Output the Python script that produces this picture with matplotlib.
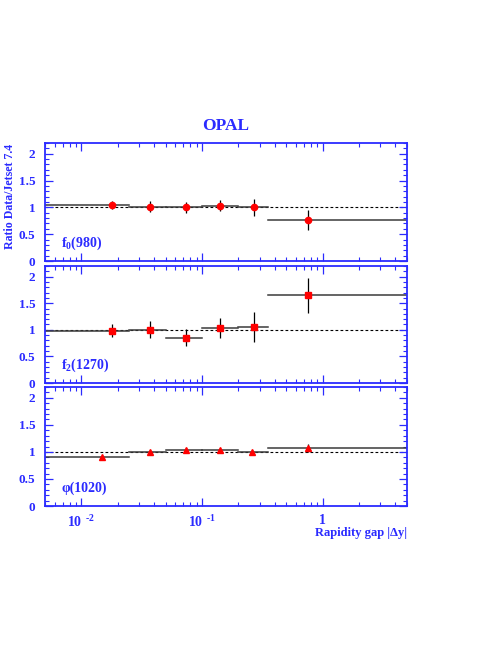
import numpy as np
import matplotlib
matplotlib.use("Agg")
import matplotlib.pyplot as plt
from matplotlib.ticker import FixedLocator, NullFormatter, MultipleLocator

plt.rcParams['font.family'] = ['Liberation Serif', 'DejaVu Serif']
plt.rcParams['font.weight'] = 'bold'
plt.rcParams['mathtext.fontset'] = 'custom'
plt.rcParams['mathtext.rm'] = 'Liberation Serif:bold'
plt.rcParams['mathtext.bf'] = 'Liberation Serif:bold'
plt.rcParams['mathtext.it'] = 'Liberation Serif:bold'

BLUE = '#2b2bff'

# bin edges in rapidity gap |dy|
bin_lo = [0.005, 0.025, 0.05, 0.1, 0.2, 0.35]
bin_hi = [0.025, 0.05, 0.1, 0.2, 0.35, 5.0]

# f0(980)
f0_x = [0.0179, 0.0369, 0.073, 0.14, 0.27, 0.75]
f0_y = [1.04, 1.01, 1.00, 1.03, 1.00, 0.77]
f0_err = [0.075, 0.10, 0.10, 0.10, 0.16, 0.19]

# f2(1270)
f2_x = [0.0179, 0.0369, 0.073, 0.14, 0.27, 0.75]
f2_y = [0.98, 1.00, 0.855, 1.04, 1.06, 1.65]
f2_err = [0.12, 0.16, 0.16, 0.19, 0.28, 0.33]

# phi(1020)
phi_x = [0.0149, 0.037, 0.073, 0.14, 0.26, 0.76]
phi_y = [0.91, 1.00, 1.04, 1.03, 1.00, 1.075]
phi_err = [0.02, 0.03, 0.03, 0.03, 0.04, 0.08]

panels = [
    (f0_x, f0_y, f0_err, 'o', 4.5, r'f$_{0}$(980)'),
    (f2_x, f2_y, f2_err, 's', 4.5, r'f$_{2}$(1270)'),
    (phi_x, phi_y, phi_err, '^', 4.0, 'φ(1020)'),
]

fig = plt.figure(figsize=(4.98, 6.45), dpi=100)
boxes = [[0.0904, 0.5953, 0.727, 0.183],
         [0.0904, 0.4062, 0.727, 0.1814],
         [0.0904, 0.2155, 0.727, 0.1845]]

for i, (xs, ys, es, mk, ms, lab) in enumerate(panels):
    ax = fig.add_axes(boxes[i])
    ax.set_xscale('log')
    ax.set_xlim(0.005, 5.0)
    ax.set_ylim(0, 2.2)
    ax.axhline(1.0, color='black', lw=0.8, ls=(0, (2.5, 2)), zorder=1)
    # horizontal bin bars
    for x, y, lo, hi in zip(xs, ys, bin_lo, bin_hi):
        ax.plot([lo, hi], [y, y], color='#3a3a3a', lw=1.1, zorder=2)
    ax.errorbar(xs, ys, yerr=es, fmt='none', ecolor='black', elinewidth=0.9,
                capsize=0, zorder=3)
    ax.plot(xs, ys, ls='none', marker=mk, ms=ms, color='red', mec='red',
            zorder=4)
    ax.text(0.045, 0.15, lab, transform=ax.transAxes, color=BLUE,
            fontsize=10, fontweight='bold', ha='left', va='center')

    for s in ax.spines.values():
        s.set_color(BLUE)
        s.set_linewidth(1.3)
    ax.tick_params(which='both', direction='in', colors=BLUE, top=True,
                   right=True, labelsize=9.5)
    ax.tick_params(which='major', length=6, width=0.9)
    ax.tick_params(which='minor', length=3, width=0.8)
    ax.tick_params(axis='y', pad=7)
    ax.yaxis.set_major_locator(FixedLocator([0, 0.5, 1, 1.5, 2]))
    ax.yaxis.set_minor_locator(MultipleLocator(0.1))
    ax.set_yticklabels(['0', '0.5', '1', '1.5', '2'], fontweight='bold')
    ax.xaxis.set_major_locator(FixedLocator([0.01, 0.1, 1]))
    ax.xaxis.set_minor_locator(FixedLocator(
        [k * 10.0 ** e for e in (-3, -2, -1, 0) for k in range(2, 10)]))
    ax.xaxis.set_minor_formatter(NullFormatter())
    if i < 2:
        ax.set_xticklabels([])
    else:
        ax.set_xticklabels([r'10$^{\;\;\text{-2}}$', r'10$^{\;\;\text{-1}}$', '1'],
                           fontweight='bold', fontsize=10)
        ax.tick_params(axis='x', pad=6)
    if i == 0:
        ax.set_title('OPAL', color=BLUE, fontsize=12.5, fontweight='bold',
                     pad=9)
        ax.set_ylabel('Ratio Data/Jetset 7.4', color=BLUE, fontsize=8.6,
                      fontweight='bold')
        ax.yaxis.set_label_coords(-0.08, 0.55)
    if i == 2:
        ax.set_xlabel('Rapidity gap |Δy|', color=BLUE, fontsize=9,
                      fontweight='bold')
        ax.xaxis.set_label_coords(1.0, -0.225)
        ax.xaxis.label.set_horizontalalignment('right')
        ax.xaxis.label.set_verticalalignment('center')

fig.savefig('out.png', dpi=100)
